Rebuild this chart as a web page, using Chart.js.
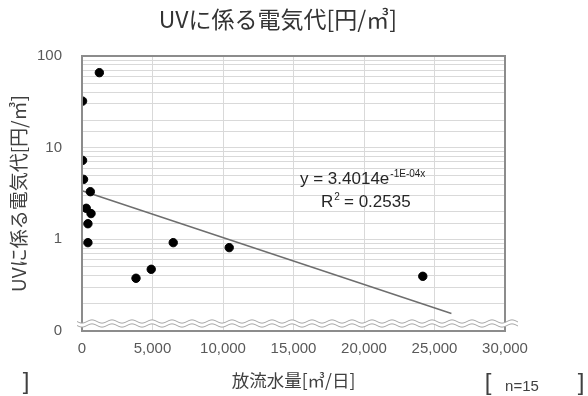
<!DOCTYPE html>
<html>
<head>
<meta charset="utf-8">
<script src="https://cdn.jsdelivr.net/npm/chart.js@4.4.1/dist/chart.umd.min.js"></script>
<style>
  html, body { margin: 0; padding: 0; background: #fff; }
</style>
</head>
<body>
<canvas id="uvChart" width="588" height="396"></canvas>
<script>
// データ
const flowVolume = [1230, 40, 40, 110, 590, 300, 640, 420, 420, 6470, 4910, 3830, 10440, 24170];
const uvCost     = [65.8, 32.2, 7.27, 4.51, 3.31, 2.18, 1.91, 1.48, 0.92, 0.92, 0.471, 0.376, 0.812, 0.395];

// 近似曲線（指数）の端点
const trendX = [60, 26200];
const trendY = [3.36, 0.155];

const chartTitle = 'UVに係る電気代[円/㎥]';
const yTitle = 'UVに係る電気代[円/㎥]';
const xTitle = '放流水量[㎥/日]';
const yTickText = { '-1': '0', '0': '1', '1': '10', '2': '100' };

const cjk = '"Noto Sans CJK JP", "Noto Sans", sans-serif';
const latin = '"Liberation Sans", Arial, sans-serif';

// 枠・波線・注釈を描くプラグイン
const decorPlugin = {
    id: 'decor',
    afterDraw(chart) {
        const ctx = chart.ctx;
        const a = chart.chartArea;
        ctx.save();

        // 枠
        ctx.strokeStyle = '#8c8c8c';
        ctx.lineWidth = 2;
        ctx.strokeRect(a.left, a.top, a.right - a.left, a.bottom - a.top);

        // 軸の省略記号（波線）
        const waveY = [321.5, 325.5];
        const x0 = 77, x1 = 518;
        ctx.fillStyle = '#fff';
        ctx.beginPath();
        for (let x = x0; x <= x1; x++) ctx.lineTo(x, waveY[0] + 1.6 * Math.sin((x - x0) / 20 * 2 * Math.PI));
        for (let x = x1; x >= x0; x--) ctx.lineTo(x, waveY[1] + 1.6 * Math.sin((x - x0) / 20 * 2 * Math.PI));
        ctx.closePath();
        ctx.fill();
        ctx.strokeStyle = '#a6a6a6';
        ctx.lineWidth = 1;
        waveY.forEach(wy => {
            ctx.beginPath();
            for (let x = x0; x <= x1; x++) ctx.lineTo(x, wy + 1.6 * Math.sin((x - x0) / 20 * 2 * Math.PI));
            ctx.stroke();
        });

        // タイトル
        ctx.fillStyle = '#333';
        ctx.textAlign = 'center';
        ctx.textBaseline = 'middle';
        ctx.font = '23px ' + cjk;
        ctx.fillText(chartTitle, 278, 19);

        // 近似式
        ctx.textAlign = 'left';
        ctx.textBaseline = 'alphabetic';
        ctx.font = '17px ' + latin;
        ctx.fillStyle = '#262626';
        const eq = 'y = 3.4014e';
        ctx.fillText(eq, 300, 184);
        const w = ctx.measureText(eq).width;
        ctx.font = '10px ' + latin;
        ctx.fillText('-1E-04x', 300 + w + 1, 177);
        ctx.font = '17px ' + latin;
        ctx.fillText('R', 321, 207);
        const rw = ctx.measureText('R').width;
        ctx.font = '10px ' + latin;
        ctx.fillText('2', 321 + rw + 1, 200);
        ctx.font = '17px ' + latin;
        ctx.fillText(' = 0.2535', 321 + rw + 6, 207);

        // n=15
        ctx.fillStyle = '#404040';
        ctx.font = '24px ' + latin;
        ctx.textBaseline = 'middle';
        ctx.textAlign = 'center';
        ctx.fillText(']', 26, 382);
        ctx.fillText('[', 488, 383);
        ctx.fillText(']', 581, 383);
        ctx.font = '15px ' + latin;
        ctx.fillText('n=15', 522, 387);

        ctx.restore();
    }
};

const ctx = document.getElementById('uvChart');
new Chart(ctx, {
    type: 'scatter',
    data: {
        datasets: [
            {
                label: 'UV',
                data: flowVolume.map((x, i) => ({ x: x, y: uvCost[i] })),
                backgroundColor: '#000',
                borderColor: '#000',
                pointRadius: 4.2,
                pointHoverRadius: 4.2,
                order: 1
            },
            {
                label: 'trend',
                data: trendX.map((x, i) => ({ x: x, y: trendY[i] })),
                showLine: true,
                borderColor: '#6e6e6e',
                borderWidth: 1.5,
                pointRadius: 0,
                order: 2
            }
        ]
    },
    options: {
        responsive: false,
        animation: false,
        layout: { padding: { top: 56, right: 83, left: 0, bottom: 0 } },
        plugins: {
            legend: { display: false },
            tooltip: { enabled: false }
        },
        scales: {
            x: {
                type: 'linear',
                min: 0,
                max: 30000,
                afterFit(scale) { scale.height = 65; },
                ticks: {
                    stepSize: 5000,
                    padding: 9,
                    color: '#595959',
                    font: { family: latin, size: 15 },
                    maxRotation: 0,
                    callback: v => v.toLocaleString('en-US')
                },
                grid: { color: '#d9d9d9', lineWidth: 1, drawTicks: false },
                border: { display: false },
                title: {
                    display: true,
                    text: xTitle,
                    color: '#404040',
                    font: { family: cjk, size: 17.5 },
                    padding: { top: 0, bottom: 5 }
                }
            },
            y: {
                type: 'logarithmic',
                min: 0.1,
                max: 100,
                afterFit(scale) { scale.width = 82; },
                ticks: {
                    autoSkip: false,
                    padding: 20,
                    color: '#595959',
                    font: { family: latin, size: 15 },
                    callback(v) {
                        const l = Math.log10(v);
                        const r = Math.round(l);
                        if (Math.abs(l - r) < 1e-6) return yTickText[String(r)];
                        return '';
                    }
                },
                grid: { color: '#d9d9d9', lineWidth: 1, drawTicks: false },
                border: { display: false },
                title: {
                    display: true,
                    text: yTitle,
                    color: '#404040',
                    font: { family: cjk, size: 19 },
                    padding: { top: 7, bottom: 0 }
                }
            }
        }
    },
    plugins: [decorPlugin]
});
</script>
</body>
</html>
